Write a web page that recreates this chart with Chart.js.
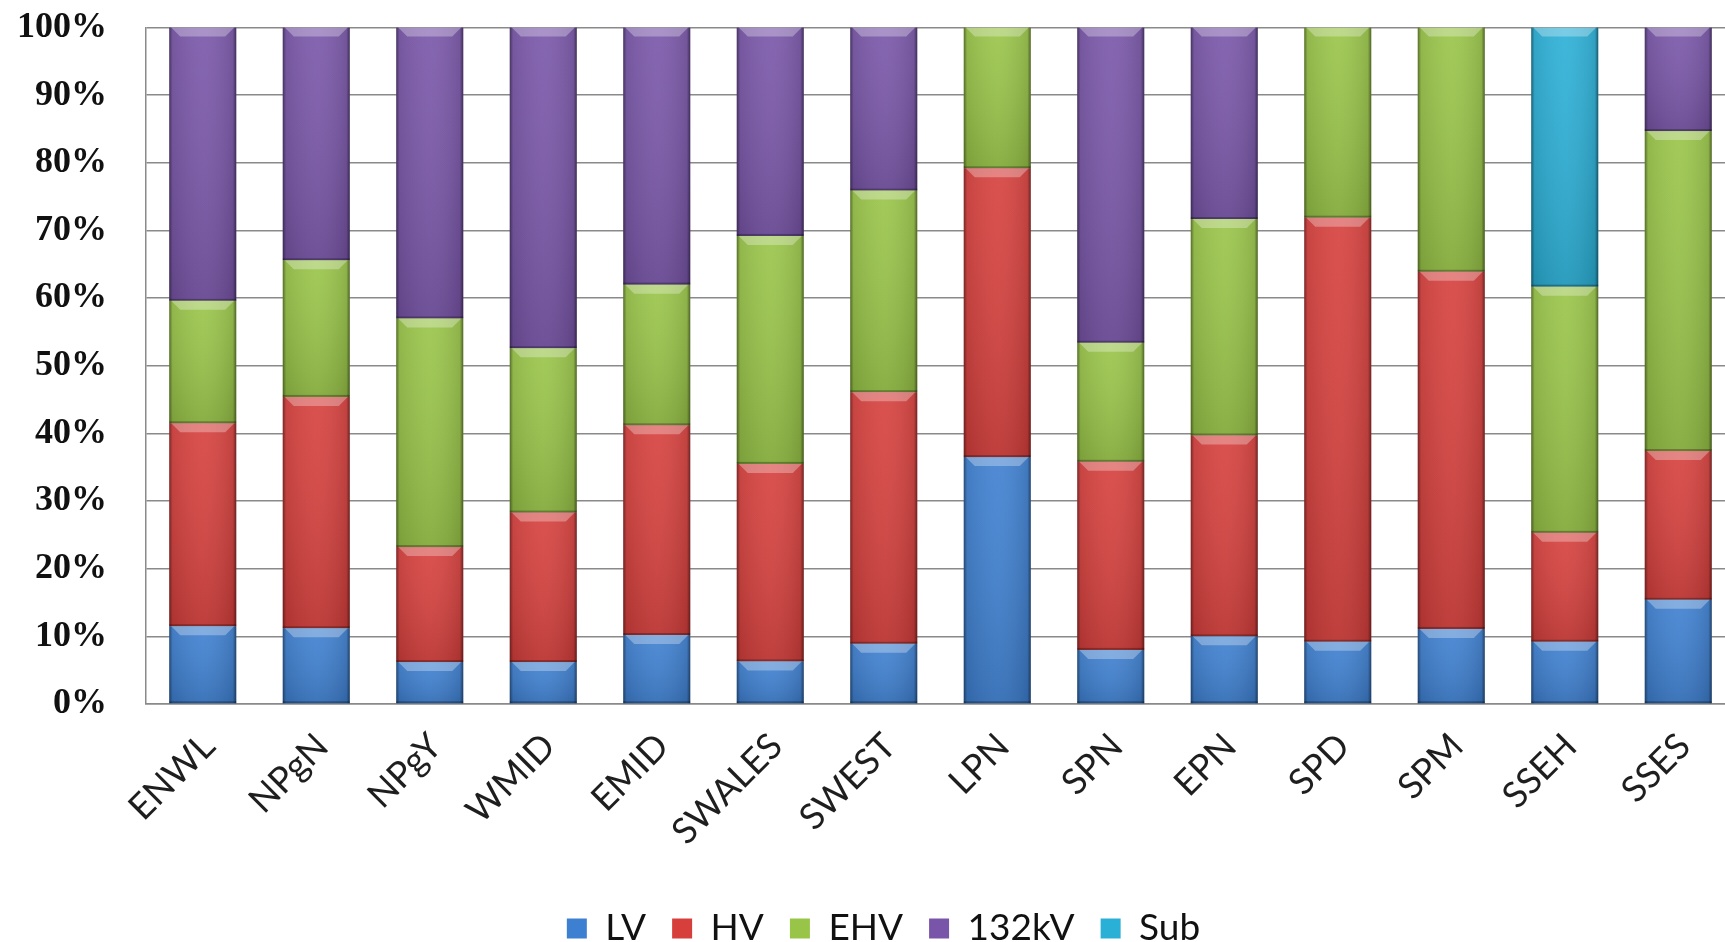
<!DOCTYPE html>
<html lang="en">
  <head>
    <meta charset="UTF-8" />
    <title>Share by voltage level</title>
    <script src="https://cdn.jsdelivr.net/npm/chart.js"></script>
    <style>
      html, body { margin: 0; padding: 0; background: #fff; overflow: hidden; }
      #wrap { width: 1725px; height: 942px; overflow: hidden; }
    </style>
  </head>
  <body>
    <div id="wrap"><canvas id="shareChart" width="1768" height="957"></canvas></div>

    <script>
      // networks along the x axis
      const networks = ["ENWL", "NPgN", "NPgY", "WMID", "EMID", "SWALES", "SWEST",
                        "LPN", "SPN", "EPN", "SPD", "SPM", "SSEH", "SSES"];

      // share of each voltage level (%)
      const lv    = [11.5, 11.2,  6.2,  6.2, 10.2,  6.3,  8.9, 36.5,  8.0, 10.0,  9.2, 11.1,  9.2, 15.4];
      const hv    = [30.0, 34.2, 17.0, 22.1, 31.0, 29.2, 37.2, 42.7, 27.8, 29.7, 62.7, 52.8, 16.1, 22.0];
      const ehv   = [18.1, 20.2, 33.8, 24.3, 20.8, 33.7, 29.8, 20.8, 17.6, 32.0, 28.1, 36.1, 36.4, 47.3];
      const kv132 = [40.4, 34.4, 43.0, 47.4, 38.0, 30.8, 24.1,  0.0, 46.6, 28.3,  0.0,  0.0,  0.0, 15.3];
      const sub   = [ 0.0,  0.0,  0.0,  0.0,  0.0,  0.0,  0.0,  0.0,  0.0,  0.0,  0.0,  0.0, 38.3,  0.0];

      const yMax = 100;
      const yStep = 10;

      // Excel-style bevel on every bar segment
      const bevel = {
        id: "bevel",
        afterDatasetsDraw(chart) {
          const ctx = chart.ctx;
          chart.data.datasets.forEach((ds, i) => {
            const meta = chart.getDatasetMeta(i);
            if (meta.hidden) return;
            meta.data.forEach((bar) => {
              const { x, y, base, width } = bar.getProps(["x", "y", "base", "width"], true);
              const h = base - y;
              if (h < 1) return;
              const left = x - width / 2;
              ctx.save();
              const v = ctx.createLinearGradient(0, y, 0, base);
              v.addColorStop(0, "rgba(255,255,255,0.06)");
              v.addColorStop(1, "rgba(0,0,0,0.12)");
              ctx.fillStyle = v;
              ctx.fillRect(left, y, width, h);
              const g = ctx.createLinearGradient(left, 0, left + width, 0);
              g.addColorStop(0, "rgba(0,0,0,0.45)");
              g.addColorStop(0.05, "rgba(0,0,0,0.08)");
              g.addColorStop(0.5, "rgba(255,255,255,0.04)");
              g.addColorStop(0.95, "rgba(0,0,0,0.10)");
              g.addColorStop(1, "rgba(0,0,0,0.5)");
              ctx.fillStyle = g;
              ctx.fillRect(left, y, width, h);
              const t = Math.min(9, h / 2);
              ctx.beginPath();
              ctx.moveTo(left + 2, y);
              ctx.lineTo(left + width - 2, y);
              ctx.lineTo(left + width - t - 2, y + t);
              ctx.lineTo(left + t + 2, y + t);
              ctx.closePath();
              ctx.fillStyle = "rgba(255,255,255,0.3)";
              ctx.fill();
              ctx.fillStyle = "rgba(0,0,0,0.28)";
              ctx.fillRect(left, base - 2, width, 2);
              ctx.restore();
            });
          });
        },
      };

      // nudge the legend a little to the right, as in the original
      const legendShift = {
        id: "legendShift",
        afterLayout(chart) {
          chart.legend.left += 16;
          chart.legend.right += 16;
        },
      };

      const ctx = document.getElementById("shareChart").getContext("2d");
      new Chart(ctx, {
        type: "bar",
        data: {
          labels: networks,
          datasets: [
            { label: "LV", data: lv, backgroundColor: "#3d7fd0" },
            { label: "HV", data: hv, backgroundColor: "#d63f3c" },
            { label: "EHV", data: ehv, backgroundColor: "#98c447" },
            { label: "132kV", data: kv132, backgroundColor: "#7855a8" },
            { label: "Sub", data: sub, backgroundColor: "#2aafd6" },
          ],
        },
        options: {
          responsive: false,
          animation: false,
          layout: { padding: { left: 0, right: 33, top: 0, bottom: 0 } },
          datasets: {
            bar: { categoryPercentage: 1, barPercentage: 0.59, borderWidth: 0 },
          },
          scales: {
            x: {
              stacked: true,
              grid: { display: false, drawTicks: false },
              border: { display: true, color: "#8a8a8a", width: 1.5 },
              ticks: {
                autoSkip: false,
                minRotation: 45,
                maxRotation: 45,
                padding: 21,
                labelOffset: 6,
                color: "#1e1e1e",
                font: { family: "Lato", size: 36 },
              },
              afterFit(scale) { scale.height = 180; },
            },
            y: {
              stacked: true,
              min: 0,
              max: yMax,
              ticks: {
                stepSize: yStep,
                padding: 6,
                color: "#111",
                font: { family: "Liberation Serif", size: 36, weight: "bold" },
                callback: (value) => value + "%",
              },
              grid: {
                color: "#8a8a8a",
                lineWidth: 1.5,
                drawTicks: true,
                tickLength: 33,
                tickColor: "rgba(0,0,0,0)",
              },
              border: { display: true, color: "#8a8a8a", width: 1.5 },
              afterFit(scale) { scale.width = 146; },
            },
          },
          plugins: {
            legend: {
              position: "bottom",
              labels: {
                boxWidth: 20,
                boxHeight: 20,
                padding: 26,
                color: "#111",
                font: { family: "Lato", size: 37 },
              },
            },
            tooltip: { enabled: false },
          },
        },
        plugins: [bevel, legendShift],
      });
    </script>
  </body>
</html>
